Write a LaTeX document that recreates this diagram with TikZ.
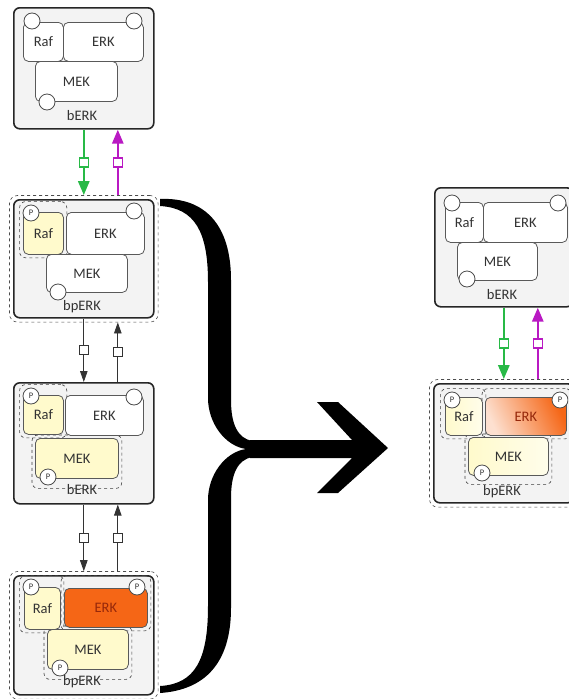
\documentclass[tikz,border=0pt]{standalone}
\usepackage{fontspec}
\setmainfont{Carlito}
\usetikzlibrary{arrows.meta,fit}
\pgfdeclarelayer{back}
\pgfdeclarelayer{mid}
\pgfsetlayers{back,mid,main}
\definecolor{cplxfill}{RGB}{243,243,243}
\definecolor{molyel}{RGB}{255,250,204}
\definecolor{molorg}{RGB}{245,102,22}
\definecolor{erktxt}{RGB}{150,40,10}
\definecolor{arrgrn}{RGB}{40,185,70}
\definecolor{arrprp}{RGB}{185,25,195}
\begin{document}
\begin{tikzpicture}[
    x=1pt, y=-1pt,
    font=\fontsize{14.5}{16}\selectfont,
    every node/.style={inner sep=0pt},
    wh/.style 2 args={minimum width=#1, minimum height=#2},
    cplx/.style={draw=black!85, line width=1.6pt, rounded corners=6pt, fill=cplxfill, anchor=north west},
    cplxp/.style={draw=black!70, dashed, line width=0.6pt, rounded corners=8pt, inner sep=3.5pt},
    mol/.style={draw=black!65, line width=0.8pt, rounded corners=5pt, fill=white, text=black!80, anchor=north west},
    grp/.style={draw=black!75, dashed, line width=0.6pt, rounded corners=6pt, inner sep=3pt},
    site/.style={circle, draw=black!70, line width=0.8pt, fill=white, minimum size=16pt},
    phos/.style={site, font=\fontsize{8.5}{8.5}\selectfont, text=black!80},
    lbl/.style={text=black!80},
    sq/.style={rectangle, draw=black!80, line width=0.8pt, fill=white, minimum size=9pt},
    gsq/.style={sq, draw=arrgrn, line width=1.6pt},
    psq/.style={sq, draw=arrprp, line width=1.6pt},
    grnarr/.style={draw=arrgrn, line width=2.6pt, -{Triangle[width=11pt,length=14pt]}},
    prparr/.style={draw=arrprp, line width=2.6pt, -{Triangle[width=11pt,length=14pt]}},
    blkarr/.style={draw=black!80, line width=0.8pt, -{Triangle[width=7.5pt,length=11pt]}}
]
\useasboundingbox (0,0) rectangle (568,699);
\clip (0,0) rectangle (568,699);

% left column
\begin{pgfonlayer}{back}
\node[cplx, wh={140pt}{121pt}] (c1) at (13,7) {};
\node[cplx, wh={140pt}{118pt}] (c2) at (13,199) {};
\node[cplxp, fit=(c2)] (c2o) {};
\node[cplx, wh={140pt}{121pt}] (c3) at (13,382) {};
\node[cplx, wh={140pt}{119pt}] (c4) at (13,575) {};
\node[cplxp, fit=(c4)] (c4o) {};
\end{pgfonlayer}

% bERK
\node[mol, wh={40pt}{39pt}] (raf1) at (23,22) {Raf};
\node[mol, wh={80pt}{39pt}] (erk1) at (63,22) {ERK};
\node[mol, wh={82pt}{40pt}] (mek1) at (35,61) {MEK};
\node[site] (s1a) at (32,21) {};
\node[site] (s1b) at (134,21) {};
\node[site] (s1c) at (47,102) {};
\node[lbl] (l1) at (82,116) {bERK};

% bpERK, Raf phosphorylated
\node[mol, fill=molyel, wh={40pt}{42pt}] (raf2) at (23,212) {Raf};
\node[mol, wh={78pt}{42pt}] (erk2) at (66,212) {ERK};
\node[mol, wh={81pt}{38pt}] (mek2) at (46,254) {MEK};
\node[phos] (p2a) at (31,213) {P};
\node[site] (s2b) at (134,211) {};
\node[site] (s2c) at (58,292) {};
\node[lbl] (l2) at (82,307) {bpERK};
\begin{pgfonlayer}{mid}
\node[grp, fit=(raf2)(p2a)] (g2a) {};
\end{pgfonlayer}

% bERK, Raf and MEK phosphorylated
\node[mol, fill=molyel, wh={40pt}{39pt}] (raf3) at (23,395) {Raf};
\node[mol, wh={78pt}{40pt}] (erk3) at (65,395) {ERK};
\node[mol, fill=molyel, wh={83pt}{40pt}] (mek3) at (35,438) {MEK};
\node[phos] (p3a) at (31,396) {P};
\node[site] (s3b) at (134,397) {};
\node[phos] (p3c) at (48,477) {P};
\node[lbl] (l3) at (82,490) {bERK};
\begin{pgfonlayer}{mid}
\node[grp, fit=(raf3)(p3a)] (g3a) {};
\node[grp, fit=(mek3)(p3c)] (g3c) {};
\end{pgfonlayer}

% bpERK, all phosphorylated
\node[mol, fill=molyel, wh={36pt}{42pt}] (raf4) at (24,587) {Raf};
\node[mol, fill=molorg, text=erktxt, wh={83pt}{39pt}] (erk4) at (64,588) {ERK};
\node[mol, fill=molyel, wh={81pt}{40pt}] (mek4) at (47,629) {MEK};
\node[phos] (p4a) at (31,587) {P};
\node[phos] (p4b) at (137,587) {P};
\node[phos] (p4c) at (60,668) {P};
\node[lbl] (l4) at (82,682) {bpERK};
\begin{pgfonlayer}{mid}
\node[grp, fit=(raf4)(p4a)] (g4a) {};
\node[grp, fit=(erk4)(p4b)] (g4b) {};
\node[grp, fit=(mek4)(p4c)] (g4c) {};
\end{pgfonlayer}

\draw[grnarr] (c1.south) -- node[gsq] (q1) {} (c2o.north);
\draw[prparr] ([xshift=34pt]c2o.north) -- node[psq] (q2) {} ([xshift=34pt]c1.south);
\draw[blkarr] (c2.south) -- node[sq] (q3) {} (c3.north);
\draw[blkarr] ([xshift=34pt]c3.north) -- node[sq] (q4) {} ([xshift=34pt]c2o.south);
\draw[blkarr] (c3.south) -- node[sq] (q5) {} (c4o.north);
\draw[blkarr] ([xshift=34pt]c4o.north) -- node[sq] (q6) {} ([xshift=34pt]c3.south);

% brace and arrow
\fill (160,199) .. controls (205,197) and (231,225) .. (231,280)
  -- (231,400) .. controls (231,425) and (238,438) .. (252,441)
  -- (252,457) .. controls (238,460) and (231,473) .. (231,498)
  -- (231,608) .. controls (231,663) and (205,690) .. (160,693)
  -- (160,686) .. controls (195,684) and (208,660) .. (208,606)
  -- (208,500) .. controls (208,475) and (225,452) .. (246,449)
  .. controls (225,446) and (208,423) .. (208,398)
  -- (208,282) .. controls (208,232) and (195,208) .. (160,206) -- cycle;
\fill (250,440) -- (352,440) -- (317,402) -- (338,402) -- (388,448)
  -- (338,493) -- (317,493) -- (352,458) -- (250,458) -- cycle;

% right column
\begin{pgfonlayer}{back}
\node[cplx, wh={138pt}{119pt}] (r1) at (434,187) {};
\node[cplx, wh={140pt}{119pt}] (r2) at (433,383) {};
\node[cplxp, fit=(r2)] (r2o) {};
\end{pgfonlayer}

\node[mol, wh={38pt}{40pt}] (rraf1) at (445,202) {Raf};
\node[mol, wh={84pt}{40pt}] (rerk1) at (483,202) {ERK};
\node[mol, wh={80pt}{38pt}] (rmek1) at (457,242) {MEK};
\node[site] (rs1a) at (452,203) {};
\node[site] (rs1b) at (558,203) {};
\node[site] (rs1c) at (467,279) {};
\node[lbl] (rl1) at (502,295) {bERK};

\node[mol, left color=molyel, right color=molyel!40!white, wh={37pt}{38pt}] (rraf2) at (445,397) {Raf};
\node[mol, left color=molorg!20!white, right color=molorg, shading angle=115, text=erktxt, wh={81pt}{38pt}] (rerk2) at (485,397) {ERK};
\node[mol, left color=molyel, right color=molyel!40!white, wh={80pt}{38pt}] (rmek2) at (468,437) {MEK};
\node[phos] (rp2a) at (452,400) {P};
\node[phos] (rp2b) at (560,400) {P};
\node[phos] (rp2c) at (482,473) {P};
\node[lbl] (rl2) at (502,492) {bpERK};
\begin{pgfonlayer}{mid}
\node[grp, fit=(rraf2)(rp2a)] (rg2a) {};
\node[grp, fit=(rerk2)(rp2b)] (rg2b) {};
\node[grp, fit=(rmek2)(rp2c)] (rg2c) {};
\end{pgfonlayer}

\draw[grnarr] (r1.south) -- node[gsq] (rq1) {} (r2o.north);
\draw[prparr] ([xshift=34pt]r2o.north) -- node[psq] (rq2) {} ([xshift=34pt]r1.south);
\end{tikzpicture}
\end{document}
